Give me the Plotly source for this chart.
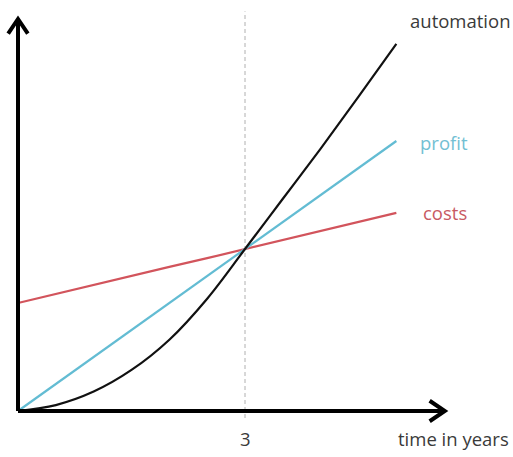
import plotly.graph_objects as go

# ---- data ----
years = [0, 0.5, 1, 1.5, 2, 2.5, 3, 3.5, 4, 4.5, 5]
automation = [0, 0.11, 0.36, 0.76, 1.32, 2.08, 3.0, 3.93, 4.86, 5.82, 6.8]
profit = [0, 0.5, 1, 1.5, 2, 2.5, 3, 3.5, 4, 4.5, 5]
costs = [2.0, 2.17, 2.33, 2.5, 2.67, 2.83, 3.0, 3.17, 3.33, 3.5, 3.67]
marker_year = 3
marker_label = "3"
x_title = "time in years"
series_names = ["automation", "profit", "costs"]

# ---- styling ----
BLACK = "#111111"
BLUE = "#63bcd3"
RED = "#d2545c"
TXT = "#3a3a3a"
FONT = "Open Sans"
FS = 18.5

X_AXIS_END = 5.64
Y_AXIS_END = 7.26

# pixel mapping
PX_X = 75.67   # px per year
PX_Y = 54.0    # px per unit
OX, OY = 18, 411  # origin position inside the figure
W, H = 513, 457

fig = go.Figure()
fig.add_trace(go.Scatter(x=years, y=costs, mode="lines", line=dict(color=RED, width=2.2), name="costs"))
fig.add_trace(go.Scatter(x=years, y=profit, mode="lines", line=dict(color=BLUE, width=2.2), name="profit"))
fig.add_trace(go.Scatter(x=years, y=automation, mode="lines",
                         line=dict(color=BLACK, width=2.2, shape="spline", smoothing=1.0), name="automation"))

shapes = []
shapes.append(dict(type="line", x0=marker_year, x1=marker_year, y0=-0.13, y1=7.4, xref="x", yref="y",
                   line=dict(color="#b0b0b0", width=1, dash="4px,3px"), layer="below"))
shapes.append(dict(type="line", x0=0, x1=X_AXIS_END, y0=0, y1=0, xref="x", yref="y",
                   line=dict(color="black", width=4)))
shapes.append(dict(type="line", x0=0, x1=0, y0=0, y1=Y_AXIS_END, xref="x", yref="y",
                   line=dict(color="black", width=4)))
dx, dy = 0.2, 0.19
shapes.append(dict(type="path", xref="x", yref="y",
                   path=f"M {X_AXIS_END-dx},{dy} L {X_AXIS_END},0 L {X_AXIS_END-dx},{-dy}",
                   line=dict(color="black", width=4)))
ax_, ay_ = 0.13, 0.27
shapes.append(dict(type="path", xref="x", yref="y",
                   path=f"M {-ax_},{Y_AXIS_END-ay_} L 0,{Y_AXIS_END} L {ax_},{Y_AXIS_END-ay_}",
                   line=dict(color="black", width=4)))

annotations = [
    dict(x=5.85, y=7.24, text=series_names[0], font=dict(color=TXT, size=FS, family=FONT)),
    dict(x=5.63, y=4.98, text=series_names[1], font=dict(color="#72c0d3", size=FS, family=FONT)),
    dict(x=5.64, y=3.67, text=series_names[2], font=dict(color="#c85a63", size=FS, family=FONT)),
    dict(x=5.76, y=-0.5, text=x_title, font=dict(color=TXT, size=FS, family=FONT)),
    dict(x=marker_year, y=-0.5, text=marker_label, font=dict(color=TXT, size=FS, family=FONT)),
]
for a in annotations:
    a.update(xref="x", yref="y", showarrow=False, xanchor="center", yanchor="middle")

fig.update_layout(
    width=W, height=H,
    margin=dict(l=0, r=0, t=0, b=0),
    paper_bgcolor="white", plot_bgcolor="white",
    showlegend=False,
    shapes=shapes, annotations=annotations,
    xaxis=dict(range=[-OX / PX_X, (W - OX) / PX_X], visible=False),
    yaxis=dict(range=[-(H - OY) / PX_Y, OY / PX_Y], visible=False),
)
fig.write_html("out.html", config={"displayModeBar": False},
               post_script="document.body.style.margin='0';document.body.style.overflow='hidden';")
